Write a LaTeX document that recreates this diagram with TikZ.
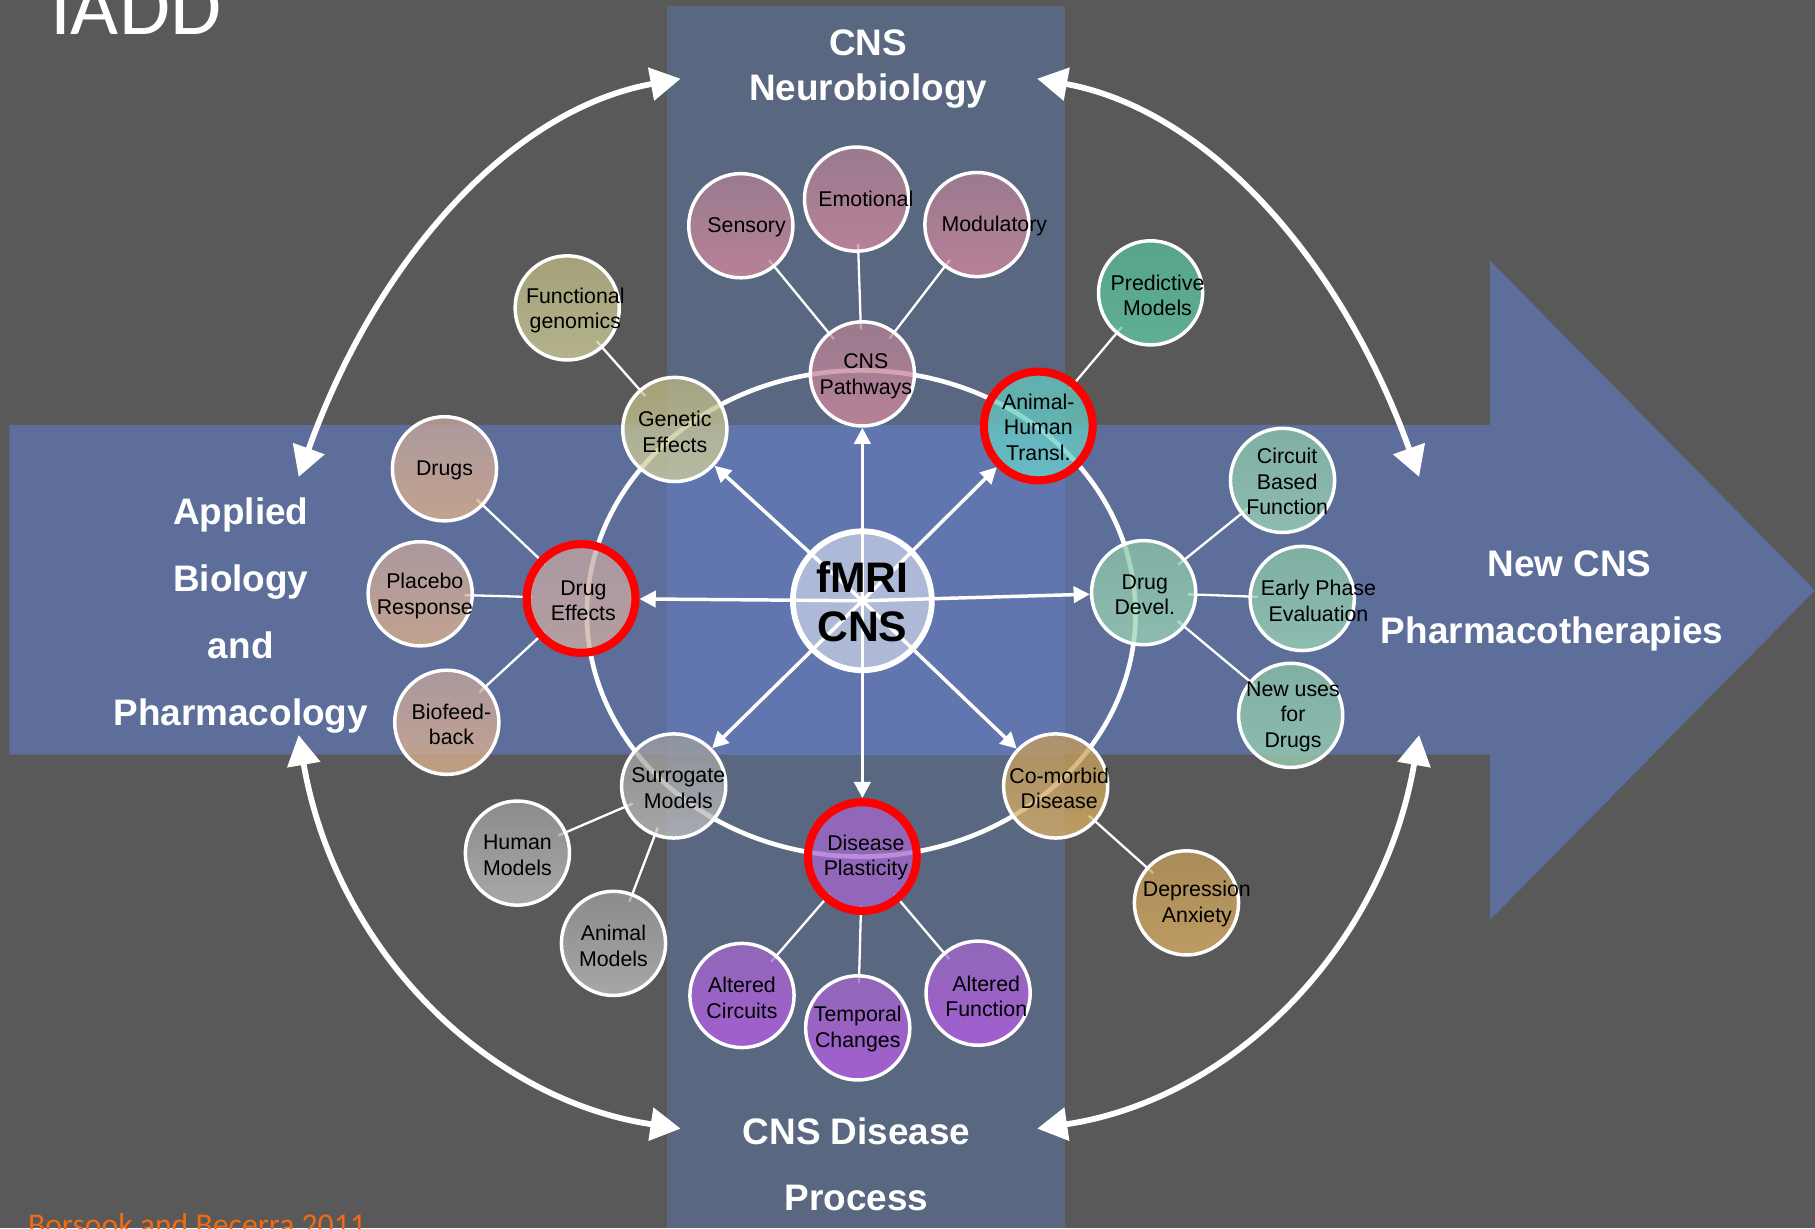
\documentclass[tikz,border=0pt]{standalone}
\usepackage{fontspec}
\setmainfont{Liberation Sans}
\newfontfamily\carlito{Carlito}
\usetikzlibrary{arrows.meta}
\pgfdeclarelayer{bglayer}
\pgfdeclarelayer{linelayer}
\pgfdeclarelayer{toplayer}
\pgfsetlayers{bglayer,linelayer,main,toplayer}
\definecolor{bgc}{HTML}{595959}
\definecolor{colc}{HTML}{5A6780}
\definecolor{bandc}{HTML}{5D6E9B}
\definecolor{isc}{HTML}{6176AF}
\definecolor{orng}{HTML}{F26B10}
\definecolor{pkT}{HTML}{B08293}\definecolor{pkB}{HTML}{D68AA1}
\definecolor{olT}{HTML}{BEBA85}\definecolor{olB}{HTML}{D2D29D}
\definecolor{tlT}{HTML}{57BE9A}\definecolor{tlB}{HTML}{61CBAA}
\definecolor{ahT}{HTML}{64C8BE}\definecolor{ahB}{HTML}{6AD2CA}
\definecolor{sgT}{HTML}{8CC5A6}\definecolor{sgB}{HTML}{9ED6B7}
\definecolor{tnT}{HTML}{C6A79F}\definecolor{tnB}{HTML}{E5B58B}
\definecolor{deT}{HTML}{C6A7A2}\definecolor{deB}{HTML}{D0AFA3}
\definecolor{gyT}{HTML}{9D9D9D}\definecolor{gyB}{HTML}{C2C2C2}
\definecolor{gdT}{HTML}{C59D5A}\definecolor{gdB}{HTML}{DFB365}
\definecolor{puT}{HTML}{A268CB}\definecolor{puB}{HTML}{BB5BEB}
\definecolor{dpc}{HTML}{A566CD}
\definecolor{fmric}{HTML}{AEB9D7}
\begin{document}
\begin{tikzpicture}[x=1bp,y=-1bp,
  bub/.style={circle, minimum size=90bp, inner sep=0pt, draw=white, line width=3bp, fill opacity=0.75},
  hot/.style={bub, draw=red, line width=7bp, minimum size=94bp},
  pink/.style={top color=pkT, bottom color=pkB},
  olive/.style={top color=olT, bottom color=olB},
  teal/.style={top color=tlT, bottom color=tlB},
  sage/.style={top color=sgT, bottom color=sgB},
  tan/.style={top color=tnT, bottom color=tnB},
  grey/.style={top color=gyT, bottom color=gyB},
  gold/.style={top color=gdT, bottom color=gdB},
  purp/.style={top color=puT, bottom color=puB},
  lbl/.style={font=\fontsize{18.5}{22}\selectfont, text=black, align=center, inner sep=0pt},
  sat/.style={white, line width=2bp, shorten <=-8bp, shorten >=-8bp},
  spoke/.style={white, line width=3bp, -{Triangle[length=14bp,width=14bp]}},
  bigarr/.style={white, line width=5bp, {Triangle[length=26bp,width=28bp]}-{Triangle[length=26bp,width=28bp]}},
  ttl/.style={font=\fontsize{32}{40}\selectfont\bfseries, text=white, inner sep=0pt, anchor=base}
]
\useasboundingbox (0,0) rectangle (1568,1061);
\begin{pgfonlayer}{bglayer}
\fill[bgc] (0,0) rectangle (1568,1061);
\fill[colc] (576,5) rectangle (920,1061);
\fill[bandc] (8,367) -- (1287,367) -- (1287,225) -- (1568,510) -- (1287,795) -- (1287,652) -- (8,652) -- cycle;
\fill[isc] (576,367) rectangle (920,652);
\coordinate (a1s) at (258,412); \coordinate (a1e) at (588,68);
\coordinate (a2s) at (1226,412); \coordinate (a2e) at (896,68);
\coordinate (a3s) at (258,635); \coordinate (a3e) at (588,975);
\coordinate (a4s) at (1226,635); \coordinate (a4e) at (896,975);
\draw[bigarr] (a1s) .. controls (325,225) and (440,95) .. (a1e);
\draw[bigarr] (a2s) .. controls (1159,225) and (1044,95) .. (a2e);
\draw[bigarr] (a3s) .. controls (290,820) and (420,950) .. (a3e);
\draw[bigarr] (a4s) .. controls (1194,820) and (1064,950) .. (a4e);
\end{pgfonlayer}

% titles
\node[anchor=base west, inner sep=0pt, text=white, font=\carlito\fontsize{72}{72}\selectfont] (iadd) at (43,30) {IADD};
\node[anchor=base west, inner sep=0pt, text=orng, font=\carlito\fontsize{27.5}{27.5}\selectfont] (ref) at (24,1067) {Borsook and Becerra 2011};
\node[ttl] (tn1) at (750,48) {CNS};
\node[ttl] (tn2) at (750,87) {Neurobiology};
\node[ttl] (td1) at (740,989) {CNS Disease};
\node[ttl] (td2) at (740,1046) {Process};
\node[ttl] (ta1) at (208,453) {Applied};
\node[ttl] (ta2) at (208,511) {Biology};
\node[ttl] (ta3) at (208,569) {and};
\node[ttl] (ta4) at (208,627) {Pharmacology};
\node[ttl] (tp1) at (1356,498) {New CNS};
\node[ttl] (tp2) at (1341,556) {Pharmacotherapies};

% centre
\node[circle, minimum size=120bp, inner sep=0pt, draw=white, line width=5bp, fill=fmric] (fmri) at (745,519) {};

% bubbles
\node[bub, pink] (sens) at (640,195) {};
\node[bub, pink] (emo) at (740,172) {};
\node[bub, pink] (mod) at (844,194) {};
\node[bub, pink] (cnsp) at (745,323) {};
\node[bub, olive] (fgen) at (490,266) {};
\node[bub, olive] (gen) at (583,371) {};
\node[hot, top color=ahT, bottom color=ahB] (ah) at (897,368) {};
\node[bub, teal] (pred) at (994,253) {};
\node[bub, tan] (drugs) at (384,405) {};
\node[bub, tan] (plac) at (363,513) {};
\node[bub, tan] (bio) at (386,624) {};
\node[hot, top color=deT, bottom color=deB] (deff) at (502,517) {};
\node[bub, sage] (ddev) at (988,512) {};
\node[bub, sage] (circ) at (1108,415) {};
\node[bub, sage] (early) at (1125,517) {};
\node[bub, sage] (newu) at (1115,618) {};
\node[bub, grey] (surr) at (582,679) {};
\node[bub, grey] (hum) at (447,737) {};
\node[bub, grey] (ani) at (530,815) {};
\node[bub, gold] (como) at (912,679) {};
\node[bub, gold] (dep) at (1025,780) {};
\node[hot, fill=dpc] (dp) at (745,740) {};
\node[bub, purp] (ac) at (641,860) {};
\node[bub, purp] (tc) at (741,888) {};
\node[bub, purp] (af) at (845,858) {};

% labels
\node[lbl] (sens-l) at (645,196) {Sensory};
\node[lbl] (emo-l) at (748,172) {Emotional};
\node[lbl] (mod-l) at (859,195) {Modulatory};
\node[lbl] (cnsp-l) at (748,325) {CNS\\Pathways};
\node[lbl] (fgen-l) at (497,268) {Functional\\genomics};
\node[lbl] (gen-l) at (583,373) {Genetic\\Effects};
\node[lbl] (ah-l) at (897,369) {Animal-\\Human\\Transl.};
\node[lbl] (pred-l) at (1000,255) {Predictive\\Models};
\node[lbl] (drugs-l) at (384,406) {Drugs};
\node[lbl] (plac-l) at (367,515) {Placebo\\Response};
\node[lbl] (bio-l) at (390,626) {Biofeed-\\back};
\node[lbl] (deff-l) at (504,519) {Drug\\Effects};
\node[lbl] (ddev-l) at (989,514) {Drug\\Devel.};
\node[lbl] (circ-l) at (1112,416) {Circuit\\Based\\Function};
\node[lbl] (early-l) at (1139,519) {Early Phase\\Evaluation};
\node[lbl] (newu-l) at (1117,619) {New uses\\for\\Drugs};
\node[lbl] (surr-l) at (586,681) {Surrogate\\Models};
\node[lbl] (hum-l) at (447,739) {Human\\Models};
\node[lbl] (ani-l) at (530,817) {Animal\\Models};
\node[lbl] (como-l) at (915,681) {Co-morbid\\Disease};
\node[lbl] (dep-l) at (1034,781) {Depression\\Anxiety};
\node[lbl] (dp-l) at (748,741) {Disease\\Plasticity};
\node[lbl] (ac-l) at (641,862) {Altered\\Circuits};
\node[lbl] (tc-l) at (741,889) {Temporal\\Changes};
\node[lbl] (af-l) at (852,861) {Altered\\Function};

\begin{pgfonlayer}{linelayer}
\draw[white, line width=4bp] (744,530) ellipse [x radius=237bp, y radius=210bp];
\draw[sat] (cnsp) -- (sens);
\draw[sat] (cnsp) -- (emo);
\draw[sat] (cnsp) -- (mod);
\draw[sat] (gen) -- (fgen);
\draw[sat] (ah) -- (pred);
\draw[sat] (deff) -- (drugs);
\draw[sat] (deff) -- (plac);
\draw[sat] (deff) -- (bio);
\draw[sat] (ddev) -- (circ);
\draw[sat] (ddev) -- (early);
\draw[sat] (ddev) -- (newu);
\draw[sat] (surr) -- (hum);
\draw[sat] (surr) -- (ani);
\draw[sat] (como) -- (dep);
\draw[sat] (dp) -- (ac);
\draw[sat] (dp) -- (tc);
\draw[sat] (dp) -- (af);
\end{pgfonlayer}

\begin{pgfonlayer}{toplayer}
\draw[spoke] (fmri.center) -- (cnsp);
\draw[spoke] (fmri.center) -- (ah);
\draw[spoke] (fmri.center) -- (ddev);
\draw[spoke] (fmri.center) -- (como);
\draw[spoke] (fmri.center) -- (dp);
\draw[spoke] (fmri.center) -- (surr);
\draw[spoke] (fmri.center) -- (deff);
\draw[spoke] (fmri.center) -- (gen);
\node[font=\fontsize{37}{43}\selectfont\bfseries, align=center, inner sep=0pt] (fmri-l) at (745,520) {fMRI\\CNS};
\end{pgfonlayer}
\end{tikzpicture}
\end{document}
